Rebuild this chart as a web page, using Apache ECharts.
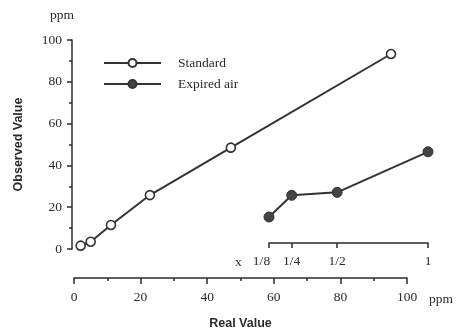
<!DOCTYPE html>
<html>
<head>
<meta charset="utf-8">
<script src="https://cdn.jsdelivr.net/npm/echarts@6/dist/echarts.min.js"></script>
<style>html,body{margin:0;padding:0;background:#fff}#c{width:459px;height:331px}</style>
</head>
<body>
<div id="c"></div>
<script>
// ---- data ----
var standardReal = [2.0, 5.0, 11.1, 22.8, 47.1, 95.2];
var standardObserved = [1.6, 3.5, 11.5, 25.8, 48.5, 93.3];
var expiredDilution = [0.125, 0.25, 0.5, 1];
var expiredObserved = [15.3, 25.7, 27.1, 46.5];
var dilutionTickLabels = ['1/8', '1/4', '1/2', '1'];
var seriesNames = ['Standard', 'Expired air'];

var SERIF = '"Liberation Serif", "DejaVu Serif", serif';
var SANS = '"Liberation Sans", Arial, sans-serif';
var INK = '#2b2b2b';

var chart = echarts.init(document.getElementById('c'), null, {renderer: 'canvas'});
var option = {
  backgroundColor: '#fff',
  animation: false,
  textStyle: {fontFamily: SERIF, color: INK},
  grid: [
    {left: 74, right: 52, top: 40, bottom: 82, containLabel: false, outerBoundsMode: 'none'},
    {left: 269, right: 31, top: 40, bottom: 82, containLabel: false, outerBoundsMode: 'none'}
  ],
  legend: {
    orient: 'vertical',
    left: 98, top: 51,
    itemWidth: 57, itemHeight: 10, itemGap: 7,
    textStyle: {fontFamily: SERIF, fontSize: 13.5, color: INK, padding: [0, 0, 0, 12]},
    data: seriesNames
  },
  xAxis: [
    {
      gridIndex: 0, type: 'value', min: 0, max: 100, interval: 20,
      offset: 29,
      name: 'Real Value', nameLocation: 'middle', nameGap: 39,
      nameTextStyle: {fontFamily: SANS, fontWeight: 'bold', fontSize: 12.5, color: INK},
      axisLine: {onZero: false, lineStyle: {color: INK, width: 1.5}},
      axisTick: {length: 6, lineStyle: {color: INK, width: 1.5}},
      minorTick: {show: true, splitNumber: 2, length: 3, lineStyle: {color: INK, width: 1.5}},
      axisLabel: {margin: 12, fontFamily: SERIF, fontSize: 13.5, color: INK},
      splitLine: {show: false}
    },
    {
      gridIndex: 1, type: 'value', min: 0.125, max: 1,
      offset: -6,
      axisLine: {onZero: false, lineStyle: {color: INK, width: 1.5}},
      axisTick: {length: 5, customValues: expiredDilution, lineStyle: {color: INK, width: 1.5}},
      axisLabel: {
        margin: 11, fontFamily: SERIF, fontSize: 13.5, color: INK,
        customValues: expiredDilution,
        showMinLabel: true, showMaxLabel: true,
        formatter: function (v) {
          var i = expiredDilution.indexOf(v);
          if (i === 0) return '{l|' + dilutionTickLabels[i] + '}';
          return i >= 0 ? dilutionTickLabels[i] : '';
        },
        rich: {l: {fontFamily: SERIF, fontSize: 13.5, color: INK, padding: [0, 15, 0, 0]}}
      },
      splitLine: {show: false}
    }
  ],
  yAxis: [
    {
      gridIndex: 0, type: 'value', min: 0, max: 100, interval: 20,
      offset: 2,
      name: 'Observed Value', nameLocation: 'middle', nameGap: 47,
      nameTextStyle: {fontFamily: SANS, fontWeight: 'bold', fontSize: 12.5, color: INK},
      axisLine: {show: true, onZero: false, lineStyle: {color: INK, width: 1.5}},
      axisTick: {show: true, length: 5, lineStyle: {color: INK, width: 1.5}},
      minorTick: {show: true, splitNumber: 2, length: 3, lineStyle: {color: INK, width: 1.5}},
      axisLabel: {margin: 10, fontFamily: SERIF, fontSize: 13.5, color: INK},
      splitLine: {show: false}
    },
    {
      gridIndex: 1, type: 'value', min: 0, max: 100, show: false
    }
  ],
  graphic: [
    {type: 'text', left: 50, top: 8, style: {text: 'ppm', font: '13.5px ' + SERIF, fill: INK}},
    {type: 'text', left: 429, top: 292, style: {text: 'ppm', font: '13.5px ' + SERIF, fill: INK}},
    {type: 'text', left: 235, top: 255, style: {text: 'x', font: '13.5px ' + SERIF, fill: INK}}
  ],
  series: [
    {
      name: seriesNames[0], type: 'line', xAxisIndex: 0, yAxisIndex: 0,
      data: standardReal.map(function (x, i) { return [x, standardObserved[i]]; }),
      symbol: 'circle', symbolSize: 9, clip: false,
      lineStyle: {color: '#333', width: 2},
      itemStyle: {color: '#fff', borderColor: '#333', borderWidth: 1.6}
    },
    {
      name: seriesNames[1], type: 'line', xAxisIndex: 1, yAxisIndex: 1,
      data: expiredDilution.map(function (x, i) { return [x, expiredObserved[i]]; }),
      symbol: 'circle', symbolSize: 10, clip: false,
      lineStyle: {color: '#333', width: 2},
      itemStyle: {color: '#444', borderColor: '#333', borderWidth: 1}
    }
  ]
};
chart.setOption(option);
</script>
</body>
</html>
